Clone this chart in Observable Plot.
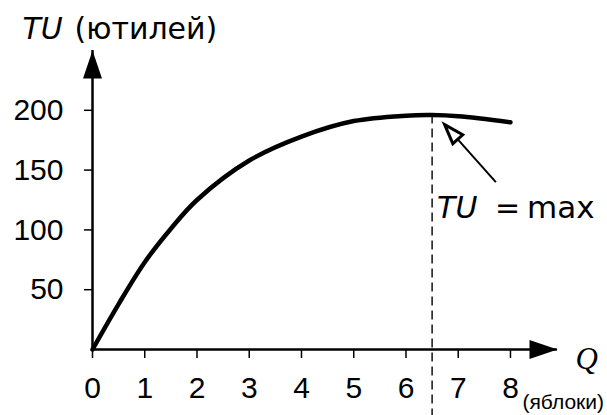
<!DOCTYPE html>
<html><head><meta charset="utf-8">
<script src="https://cdn.jsdelivr.net/npm/d3@7"></script>
<script src="https://cdn.jsdelivr.net/npm/@observablehq/plot@0.6"></script>
<style>
html,body{margin:0;padding:0;background:#fff;overflow:hidden;width:607px;height:415px}
#chart svg{display:block;overflow:visible}
</style>
</head><body><div id="chart"></div>
<script>
// Quantity of apples and total utility
const quantity = [0, 0.5, 1, 1.5, 2, 3, 4, 5, 6, 6.5, 7, 8];
const utility  = [0, 38, 73, 101, 125, 158, 178, 191, 195.5, 196, 195, 190];
const xTicks = [0, 1, 2, 3, 4, 5, 6, 7, 8];
const yTicks = [50, 100, 150, 200];
const maxQ = 6.5;
const maxTU = 196;
const yTitle = ["TU", "(ютилей)"];
const xTitle = ["Q", "(яблоки)"];
const annotation = ["TU", "=", "max"];
const pointerTail = [7.72, 140];
const pointerTip = [6.74, 188];

const data = quantity.map((q, i) => ({q, tu: utility[i]}));

// arrowhead symbol, tip at origin pointing up
const arrowHead = {
  draw(ctx, size) {
    const k = Math.sqrt(size / Math.PI);
    const L = 2.8 * k, hw = 0.95 * k;
    ctx.moveTo(0, 0);
    ctx.lineTo(hw, L);
    ctx.lineTo(-hw, L);
    ctx.closePath();
  }
};

const numFont = "'Liberation Sans', Arial, sans-serif";
const textFont = "'DejaVu Sans', sans-serif";

const plot = Plot.plot({
  width: 607,
  height: 415,
  marginLeft: 92,
  marginRight: 50,
  marginTop: 50,
  marginBottom: 66,
  style: {fontFamily: numFont, fontSize: "30px", color: "black", background: "white"},
  x: {domain: [0, 8.9], axis: null},
  y: {domain: [0, 250], axis: null},
  marks: [
    // dashed guide at the maximum
    Plot.ruleX([maxQ], {y1: maxTU, y2: 0, stroke: "black", strokeWidth: 1.4, strokeDasharray: "9,5", insetBottom: -70}),
    // axes lines
    Plot.ruleX([0], {stroke: "black", strokeWidth: 2.5}),
    Plot.ruleY([0], {stroke: "black", strokeWidth: 2.5}),
    Plot.axisY(yTicks, {tickSize: 8, tickPadding: 21, fontSize: 30, fontFamily: numFont, strokeWidth: 1.5, label: null}),
    Plot.axisX(xTicks, {tickSize: 9, tickPadding: 18, fontSize: 30, fontFamily: numFont, strokeWidth: 1.5, label: null}),
    // axis arrowheads
    Plot.dot([0], {x: 0, y: 250, symbol: arrowHead, r: 10, fill: "black", stroke: "none"}),
    Plot.dot([0], {x: 8.9, y: 0, symbol: arrowHead, r: 10, fill: "black", stroke: "none", rotate: 90}),
    // TU curve
    Plot.line(data, {x: "q", y: "tu", stroke: "black", strokeWidth: 4.5, curve: "catmull-rom"}),
    // pointer arrow
    Plot.link([0], {x1: pointerTail[0], y1: pointerTail[1], x2: pointerTip[0], y2: pointerTip[1], stroke: "black", strokeWidth: 2}),
    Plot.dot([0], {x: pointerTip[0], y: pointerTip[1], symbol: arrowHead, r: 7, fill: "white", stroke: "black", strokeWidth: 3, rotate: -42}),
    // annotation text
    Plot.text([annotation[0]], {x: maxQ, y: maxTU, text: d => d, dx: 5, dy: 93, textAnchor: "start", lineAnchor: "middle", fontStyle: "italic", fontFamily: textFont, fontSize: 30}),
    Plot.text([annotation[1]], {x: maxQ, y: maxTU, text: d => d, dx: 63, dy: 93, textAnchor: "start", lineAnchor: "middle", fontFamily: textFont, fontSize: 30}),
    Plot.text([annotation[2]], {x: maxQ, y: maxTU, text: d => d, dx: 95, dy: 93, textAnchor: "start", lineAnchor: "middle", fontFamily: textFont, fontSize: 31}),
    // y title
    Plot.text([yTitle[0]], {frameAnchor: "top-left", text: d => d, dx: -70, dy: -21, textAnchor: "start", lineAnchor: "middle", fontStyle: "italic", fontFamily: textFont, fontSize: 30}),
    Plot.text([yTitle[1]], {frameAnchor: "top-left", text: d => d, dx: -18, dy: -21, textAnchor: "start", lineAnchor: "middle", fontFamily: textFont, fontSize: 30}),
    // x title
    Plot.text([xTitle[0]], {frameAnchor: "bottom-right", text: d => d, dx: 18, dy: 10, textAnchor: "start", lineAnchor: "middle", fontStyle: "italic", fontFamily: "'Liberation Serif', 'Times New Roman', serif", fontSize: 31}),
    Plot.text([xTitle[1]], {frameAnchor: "bottom-right", text: d => d, dx: -35, dy: 53, textAnchor: "start", lineAnchor: "middle", fontFamily: numFont, fontSize: 21})
  ]
});
document.getElementById("chart").appendChild(plot);
</script>
</body></html>
